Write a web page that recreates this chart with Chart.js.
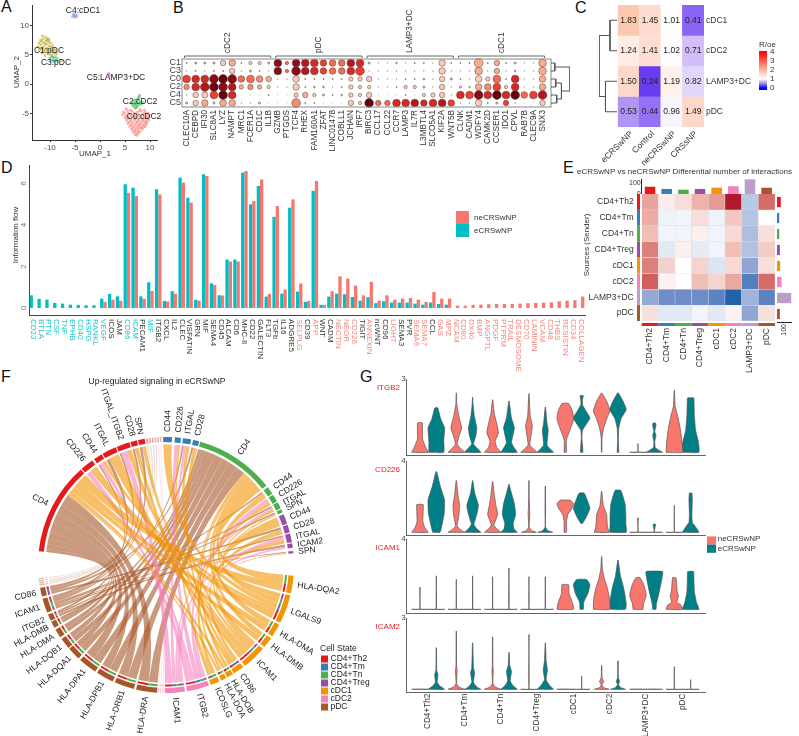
<!DOCTYPE html>
<html>
<head>
<meta charset="utf-8">
<script src="https://cdn.jsdelivr.net/npm/chart.js@4"></script>
<style>
html, body { margin: 0; padding: 0; background: #fff; width: 799px; height: 736px; overflow: hidden; }
body { position: relative; font-family: 'Liberation Sans', sans-serif; }
canvas { position: absolute; }
.tag { position: absolute; font-size: 16px; line-height: 16px; color: #111; }
</style>
</head>
<body>
<div class="tag" style="left:1px;top:-1px">A</div>
<div class="tag" style="left:173px;top:0">B</div>
<div class="tag" style="left:575px;top:0">C</div>
<div class="tag" style="left:1px;top:160px">D</div>
<div class="tag" style="left:563px;top:160px">E</div>
<div class="tag" style="left:1px;top:369px">F</div>
<div class="tag" style="left:360px;top:369px">G</div>
<script>
// ---- A: UMAP
const umapC0 = [[5.2,-4.2],[6.1,-4.4],[7.1,-4.1],[8.0,-4.3],[8.9,-4.4],[4.7,-4.7],[5.6,-4.9],[6.4,-4.6],[7.4,-4.8],[8.3,-4.6],[9.1,-4.8],[9.6,-4.9],[4.5,-5.2],[5.2,-5.4],[6.0,-5.1],[6.9,-5.3],[7.7,-5.2],[8.6,-5.3],[9.3,-5.2],[9.9,-5.3],[5.0,-5.7],[5.8,-5.8],[6.6,-5.6],[7.4,-5.8],[8.2,-5.7],[9.0,-5.8],[9.7,-5.7],[5.3,-6.2],[6.1,-6.3],[6.9,-6.1],[7.7,-6.3],[8.5,-6.2],[9.3,-6.3],[9.8,-6.1],[5.6,-6.7],[6.4,-6.8],[7.2,-6.6],[8.0,-6.8],[8.8,-6.7],[9.4,-6.6],[5.9,-7.2],[6.7,-7.3],[7.5,-7.1],[8.3,-7.3],[9.0,-7.2],[6.3,-7.7],[7.0,-7.8],[7.7,-7.6],[8.4,-7.7],[6.6,-8.2],[7.3,-8.3],[8.0,-8.1],[7.0,-8.6],[7.4,-8.7],[5.5,-4.5],[6.8,-4.9],[7.8,-4.6],[8.7,-5.0],[4.9,-5.0],[5.6,-5.5],[6.3,-5.4],[7.2,-5.5],[8.0,-5.4],[8.9,-5.5],[9.5,-5.6],[5.4,-5.9],[6.2,-6.0],[7.0,-5.9],[7.8,-6.0],[8.6,-6.0],[9.4,-5.9],[5.8,-6.5],[6.6,-6.5],[7.4,-6.4],[8.2,-6.5],[9.0,-6.4],[6.2,-7.0],[7.0,-7.0],[7.8,-6.9],[8.6,-7.0],[9.2,-6.9],[6.5,-7.5],[7.3,-7.5],[8.0,-7.4],[8.7,-7.4],[6.9,-8.0],[7.6,-8.0],[7.7,-8.4]];
const umapC1 = [[-12.4,6.4],[-12.2,7.0],[-12.1,5.8],[-11.9,7.5],[-11.8,6.7],[-11.7,6.0],[-11.6,5.3],[-11.5,8.2],[-11.4,7.7],[-11.3,7.1],[-11.2,6.4],[-11.1,5.6],[-11.0,4.9],[-10.9,8.0],[-10.8,7.4],[-10.7,6.8],[-10.6,6.1],[-10.5,5.4],[-10.4,7.8],[-10.3,7.2],[-10.2,6.5],[-10.1,5.8],[-10.0,5.1],[-9.9,7.0],[-9.8,6.3],[-9.7,5.6],[-9.6,4.9],[-9.5,6.6],[-9.3,6.0],[-9.2,5.3],[-9.0,5.8],[-8.8,5.1],[-8.6,5.4],[-12.0,6.2],[-11.4,6.0],[-11.0,6.9],[-10.6,7.6],[-10.9,5.9],[-11.7,7.3],[-10.2,7.5],[-9.4,4.6],[-8.4,4.2],[-7.6,4.0]];
const umapC2 = [[6.4,-3.3],[6.6,-3.7],[6.7,-2.9],[6.9,-3.4],[7.0,-4.0],[7.1,-3.1],[7.2,-3.6],[7.3,-2.7],[7.4,-3.9],[7.5,-3.2],[7.6,-2.5],[7.7,-3.5],[7.8,-2.2],[7.9,-1.9],[8.0,-3.0],[8.2,-3.4],[8.5,-3.1]];
const umapC3 = [[-10.0,4.5],[-9.8,4.0],[-9.6,4.7],[-9.4,4.2],[-9.2,3.8],[-9.1,4.6],[-8.9,4.1],[-8.7,4.5],[-8.5,3.9]];
const umapC4 = [[-5.5,11.5],[-5.4,11.9],[-5.2,11.6],[-5.1,12.0],[-5.0,11.4],[-4.9,11.8]];
const umapC4b = [[-4.7,11.5],[-4.6,11.7]];
const umapC5 = [[1.6,1.6],[1.8,1.9],[1.9,1.5],[1.7,1.7]];
const umapLabels = ['C4:cDC1', 'C1:pDC', 'C3:pDC', 'C5:LAMP3+DC', 'C2:cDC2', 'C0:cDC2'];
const umapLabelX = [-3.4, -10.2, -8.8, 3.2, 8.0, 8.8];
const umapLabelY = [12.6, 5.8, 3.75, 1.2, -2.9, -5.6];

// ---- B: marker dot plot
const geneGroups = ['cDC2', 'pDC', 'LAMP3+DC', 'cDC1'];
const dotGenes = ['CLEC10A','CEBPD','IFI30','SLC8A1','LYZ','NAMPT','MRC1','FCER1A','CD1C','IL1B','GZMB','PTGDS','TCF4','RHEX','FAM160A1','ZFAT','LINC01478','COBLL1','JCHAIN','IRF7','BIRC3','CCL17','CCL22','CCR7','LAMP3','IL7R','L3MBTL4','SLCO5A1','KIF2A','WNT5B','CLNK','CADM1','WDFY4','CAMK2D','CCSER1','IDO1','CPVL','RAB7B','CLEC9A','SNX3'];
const dotRows = ['C1', 'C3', 'C0', 'C2', 'C4', 'C5'];
const sizeC1 = [1,2,2,2,5,6,1,3,3,2, 7,3,7,7,7,6,6,6,7,7, 2,.5,.5,1.5,.5,1,1,.5,6,1, 1,1,8,1,5,1,2,.5,.5,7];
const levelC1 = [3,2,2,2,1,2,3,1,1,1, 8,4,8,7,6,5,4,4,7,6, 1,2,2,2,2,3,3,2,1,3, 3,3,2,3,2,3,1,2,2,2];
const sizeC3 = [.5,1,.5,1,1,5,.5,2,1,.5, 7,3,8,7,7,6,6,6,7,8, .5,.5,.5,.5,.5,.5,.5,.5,6,.5, .5,.5,7,.5,5,.5,1.5,.5,.5,7];
const levelC3 = [3,3,3,3,3,1,3,1,2,3, 8,4,8,7,6,5,4,4,6,5, 3,3,3,3,3,3,3,3,1,3, 3,3,2,3,2,3,2,3,3,2];
const sizeC0 = [7,7,7,8,8,8,6,7,6,5, .5,.5,6,1,1,1,1,1,4,4, 5,.5,.5,.5,1,1,1.5,.5,5,2, 1,.5,6,4,7,1,7,.5,.5,6];
const levelC0 = [5,6,6,8,9,8,4,4,3,2, 3,3,1,3,3,3,3,3,1,1, 1,3,3,3,3,3,3,3,1,2, 3,3,1,1,4,3,6,3,3,2];
const sizeC2 = [5,7,8,8,8,7,4,5,4,3, .5,.5,6,1,1.5,1.5,.5,1,4,3, 3,.5,.5,1,3,3,2,.5,5,.5, 2,1.5,6,6,7,3,7,.5,.5,6];
const levelC2 = [3,6,7,9,8,7,2,3,2,1, 3,3,1,3,3,3,3,3,1,1, 1,3,3,3,1,1,1,3,1,3, 1,1,2,3,5,1,6,3,3,2];
const sizeC4 = [.5,5,5.5,7,8,7,.2,.2,.2,1, .2,.2,4,5,3,2,1,1.5,4,3, 5,.2,.2,.2,1,.2,3,4,5,.5, 7,7,8,7,8,7,8,6,7,8];
const levelC4 = [3,1,1,5,9,6,3,3,3,3, 3,3,1,2,1,1,3,2,1,1, 1,3,3,3,3,3,1,1,1,3, 6,5,8,6,9,6,9,4,5,7];
const sizeC5 = [2,5,6,2,6,6,.5,.5,2,.2, .2,.2,8,1,1,.2,.2,.2,5,3, 8,5,5,7,7,7,6,7,7,6, .5,.5,6,1,2,5,.5,.2,.2,5];
const levelC5 = [1,1,2,1,2,2,3,3,1,3, 3,3,3,3,3,3,3,3,1,1, 9,4,4,6,6,7,6,6,7,5, 3,3,1,3,1,5,3,3,3,1];
const dotSizes = [sizeC1, sizeC3, sizeC0, sizeC2, sizeC4, sizeC5];
const dotLevels = [levelC1, levelC3, levelC0, levelC2, levelC4, levelC5];
const dotDendro = [[[0,.5],[.2,.5],[.2,1.5],[0,1.5]], [[0,2.5],[.25,2.5],[.25,3.5],[0,3.5]], [[0,4.5],[.3,4.5],[.3,5.5],[0,5.5]], [[.25,3],[.55,3],[.55,5],[.3,5]], [[.2,1],[1,1],[1,4],[.55,4]]];

// ---- C: R/oe heat map
const roeCols = ['eCRSwNP', 'Control', 'neCRSwNP', 'CRSsNP'];
const roeRows = ['cDC1', 'cDC2', 'LAMP3+DC', 'pDC'];
const roeCDC1 = [1.83, 1.45, 1.01, 0.41];
const roeCDC2 = [1.24, 1.41, 1.02, 0.71];
const roeLAMP3 = [1.50, 0.24, 1.19, 0.82];
const roePDC = [0.53, 0.44, 0.96, 1.49];
const roeTable = [roeCDC1, roeCDC2, roeLAMP3, roePDC];
const roeDendro = [[[0,.5],[.39,.5],[.39,1.5],[0,1.5]], [[0,2.5],[.64,2.5],[.64,3.5],[0,3.5]], [[.39,1],[1,1],[1,3],[.64,3]]];
const roeTicks = [4, 3, 2, 1, 0];

// ---- D: information flow
const flowLabels = ['CD23','BTLA','PTN','CSF','TNF','EPHB','CD40','HSPG','RANKL','VEGF','ICOS','JAM','CD86','ICAM','PECAM1','MIF','ITGB2','CXCL','IL2','CLEC','VISFATIN','GRN','MIF','SEMA4','CD45','ALCAM','CD6','MHC-II','CD22','GALECTIN','FLT3','TGFb','IL16','ADGRE5','SELPLG','CD39','APP','WNT','CADM','NECTIN','NEGR','CD226','TIGIT','ANNEXIN','ncWNT','CD96','LIGHT','SEMA3','PVR','SEMA6','SEMA7','CCL','GAS','MPZ','NCAM','CD80','OX40','BMP','ANGPTL','PDGF','PTPRM','TRAIL','DESMOSOME','CD70','LAMININ','VCAM','CD48','THBS','RESISTIN','CD34','COLLAGEN'];
const flowE = [.61,.44,.40,.24,.21,.16,.15,.13,.13,.45,.68,.56,5.97,5.80,.56,1.24,5.73,.34,.81,6.29,5.32,.39,6.45,1.19,.61,2.34,2.34,6.53,5.0,5.89,.55,4.4,.69,4.84,.79,.29,5.65,.15,.55,.69,.66,.53,.35,.52,.23,.32,.26,.26,.26,.21,.16,.26,.19,.16,0,0,0,0,0,0,0,0,0,0,0,0,0,0,0,0,0];
const flowN = [0,0,0,0,0,0,0,0,0,.29,.40,.35,5.56,5.40,.44,.82,5.48,.31,.69,6.05,5.08,.35,6.37,1.11,.60,2.24,2.24,6.61,5.16,6.2,.68,4.92,.89,5.24,1.18,.34,6.13,.15,.81,1.53,1.42,1.08,.61,1.26,.35,.61,.40,.45,.48,.40,.29,.77,.45,.45,.11,.11,.15,.16,.18,.19,.19,.19,.21,.23,.24,.26,.27,.32,.35,.37,.55];
const flowSide = 'eeeeeeeeee--ee-e------------------n-n--nnn-n--n--nn-nnnnnnnnnnnnnnnnnnn'.split('');
const flowTicks = [0, 2, 4, 6];

// ---- E: differential interactions
const cellStates = ['CD4+Th2', 'CD4+Tm', 'CD4+Tn', 'CD4+Treg', 'cDC1', 'cDC2', 'LAMP3+DC', 'pDC'];
const diffTh2 = [.37, .07, .13, .3, .42, 1.0, -.25, .65];
const diffTm = [.33, -.06, -.05, .13, -.06, .22, -.27, 0];
const diffTn = [.25, -.05, -.05, .06, -.05, .15, -.3, .12];
const diffTreg = [.55, -.1, .06, -.09, -.05, .25, -.28, .2];
const diffCDC1 = [.55, .18, 0, .17, -.12, .15, -.42, .12];
const diffCDC2 = [.7, .05, 0, .25, .17, .35, -.7, .65];
const diffLAMP3 = [-.4, -.55, -.55, -.55, -.65, -1.0, -.35, -.65];
const diffPDC = [.12, -.1, -.1, -.05, -.1, .05, -.42, .12];
const diffTable = [diffTh2, diffTm, diffTn, diffTreg, diffCDC1, diffCDC2, diffLAMP3, diffPDC];
const diffIncoming = [70, 48, 42, 48, 61, 73, 136, 61];
const diffOutgoing = [57, 36, 36, 44, 49, 67, 200, 44];

// ---- F: chord diagram
const legendStates = ['CD4+Th2', 'CD4+Tm', 'CD4+Tn', 'CD4+Treg', 'cDC1', 'cDC2', 'pDC'];
const chordIds = ['Tm.CD44','','Tm.CD226','','Tm.ITGAL','','Tm.CD28','',
  'Tn.CD4','','Tn.CD44','','Tn.CD226','','Tn.ITGAL','','Tn.SPN','',
  'Treg.CD44','','Treg.CD28','','Treg.ITGAL','','Treg.ICAM2','','Treg.SPN','',
  'cDC1.HLA-DQA2','','cDC1.LGALS9','','cDC1.HLA-DMA','','cDC1.HLA-DMB','','cDC1.ICAM1','','cDC1.CD86','','cDC1.HLA-DOB','','cDC1.HLA-DOA','','cDC1.ICOSLG','',
  'cDC2.ITGB2','','cDC2.ICAM1','','cDC2.~a','','cDC2.~b','','cDC2.~c','',
  'pDC.HLA-DRA','','pDC.HLA-DRB1','','pDC.HLA-DPB1','','pDC.HLA-DPA1','','pDC.HLA-DQA1','','pDC.HLA-DQB1','','pDC.HLA-DMA','','pDC.HLA-DMB','','pDC.ITGB2','','pDC.ICAM1','','pDC.CD86','','pDC.~a','','pDC.~b','','pDC.~c','','pDC.~d','',
  'Th2.CD4','','Th2.CD226','','Th2.CD44','','Th2.ITGAL','','Th2.ITGAL_ITGB2','','Th2.CD28','','Th2.SPN','','Th2.~a','','Th2.~b','','Th2.~c','','Th2.~d','','Th2.~e','','Th2.~f',''];
const chordWeights = [4,1.3,2.7,.9,3.7,.9,2.8,.5,
  36,1,3.5,.5,3.5,.5,3,.5,1.5,1,
  4.5,.5,3.5,.5,4,.5,2,1.5,1,10,
  8,1,13,1,6,1,5,1,11,1,5,.5,3,.5,2.5,1,4,1,
  10,1,9,.5,.7,.4,.6,.4,.5,.4,
  9.5,1,9,1,8,1,8.5,1,6,.5,5,1,4,1,3,.5,3,1,6.5,1,4,1,.7,.3,.7,.3,.6,.3,.5,12,
  42,.5,6,1,4,.5,6.5,.5,6,.5,3,.5,3,.5,.9,.5,.8,.5,.8,.5,.7,.5,.7,.5,.6,.8];
const chordLinks = [
  ['pDC.HLA-DRA','Th2.CD4',5], ['pDC.HLA-DRA','Tn.CD4',4.5], ['pDC.HLA-DRB1','Th2.CD4',4.5], ['pDC.HLA-DRB1','Tn.CD4',4.5],
  ['pDC.HLA-DPB1','Th2.CD4',4], ['pDC.HLA-DPB1','Tn.CD4',4], ['pDC.HLA-DPA1','Th2.CD4',4.5], ['pDC.HLA-DPA1','Tn.CD4',4],
  ['pDC.HLA-DQA1','Th2.CD4',3], ['pDC.HLA-DQA1','Tn.CD4',3], ['pDC.HLA-DQB1','Th2.CD4',2.5], ['pDC.HLA-DQB1','Tn.CD4',2.5],
  ['pDC.HLA-DMA','Th2.CD4',2], ['pDC.HLA-DMA','Tn.CD4',2], ['pDC.HLA-DMB','Th2.CD4',1.5], ['pDC.HLA-DMB','Tn.CD4',1.5],
  ['pDC.ITGB2','Treg.ICAM2',1], ['pDC.ITGB2','Th2.CD44',1], ['pDC.ITGB2','Tn.CD44',1],
  ['pDC.ICAM1','Th2.ITGAL',1], ['pDC.ICAM1','Th2.ITGAL_ITGB2',1], ['pDC.ICAM1','Th2.SPN',1], ['pDC.ICAM1','Tm.ITGAL',1], ['pDC.ICAM1','Tn.ITGAL',1], ['pDC.ICAM1','Tn.SPN',1], ['pDC.ICAM1','Treg.ITGAL',1], ['pDC.ICAM1','Treg.SPN',1],
  ['pDC.CD86','Th2.CD28',1], ['pDC.CD86','Tm.CD28',1], ['pDC.CD86','Treg.CD28',1],
  ['pDC.~a','Th2.~a',1], ['pDC.~b','Th2.~b',1], ['pDC.~c','Th2.~c',1], ['pDC.~d','Th2.~d',1],
  ['cDC1.HLA-DQA2','Th2.CD4',4], ['cDC1.HLA-DQA2','Tn.CD4',4], ['cDC1.HLA-DMA','Th2.CD4',3], ['cDC1.HLA-DMA','Tn.CD4',3], ['cDC1.HLA-DMB','Th2.CD4',2.5], ['cDC1.HLA-DMB','Tn.CD4',2.5],
  ['cDC1.HLA-DOB','Th2.CD4',1.5], ['cDC1.HLA-DOB','Tn.CD4',1.5], ['cDC1.HLA-DOA','Th2.CD4',1], ['cDC1.HLA-DOA','Tn.CD4',1],
  ['cDC1.LGALS9','Th2.CD226',4], ['cDC1.LGALS9','Th2.CD44',2], ['cDC1.LGALS9','Tm.CD44',3], ['cDC1.LGALS9','Tn.CD44',3], ['cDC1.LGALS9','Treg.CD44',3],
  ['cDC1.ICAM1','Th2.ITGAL',3], ['cDC1.ICAM1','Th2.ITGAL_ITGB2',2.5], ['cDC1.ICAM1','Th2.SPN',1.5], ['cDC1.ICAM1','Tm.ITGAL',2], ['cDC1.ICAM1','Tn.ITGAL',1.5], ['cDC1.ICAM1','Tn.SPN',1], ['cDC1.ICAM1','Treg.ITGAL',2], ['cDC1.ICAM1','Treg.SPN',.7],
  ['cDC1.CD86','Th2.CD28',2], ['cDC1.CD86','Tm.CD28',2], ['cDC1.CD86','Treg.CD28',2], ['cDC1.ICOSLG','Tm.CD226',2], ['cDC1.ICOSLG','Tn.CD226',2],
  ['cDC2.ITGB2','Th2.CD226',2.5], ['cDC2.ITGB2','Th2.CD44',2], ['cDC2.ITGB2','Tm.CD226',2.5], ['cDC2.ITGB2','Tn.CD226',2], ['cDC2.ITGB2','Treg.ICAM2',1],
  ['cDC2.ICAM1','Th2.ITGAL_ITGB2',3], ['cDC2.ICAM1','Tm.ITGAL',1.5], ['cDC2.ICAM1','Tn.ITGAL',1], ['cDC2.ICAM1','Treg.ITGAL',1.5], ['cDC2.ICAM1','Treg.SPN',.5],
  ['cDC2.~a','Th2.~e',1], ['cDC2.~b','Th2.~f',1], ['cDC2.~c','Th2.~f',.5]
];

// ---- G: violins, each profile is y, relative half width, y, ...
const itgb2Ne = [[0,1,.2,.7,.55,.3,.75,.3,1.2,.3,1.22,.1],[0,1,.2,.4,.34,.1,.68,.35,1,.65,1.5,.3,2,.05,2.43,.02],[0,1,.2,.5,.45,.3,.8,.7,1.1,.55,1.6,.2,2.15,.02],[0,1,.15,.5,.3,.1,.9,.35,1.1,.4,1.5,.15,2.4,.02],[0,.15,.5,.12,.85,.5,1.35,1,1.7,.85,2,.4],[0,.03,.6,.05,1,.25,1.4,.65,1.7,1,2.1,.6,2.4,.1,2.43,.02],[0,1,.02,.03,.35,.02],[0,1,.5,.9,1,.7,1.5,.4,1.9,.1,2.54,.02]];
const itgb2E = [[0,.9,.5,.9,1,1,1.35,.55,1.8,.2,1.83,.1],[0,1,.2,.45,.34,.1,.7,.4,1,.5,1.5,.2,2,.05,2.25,.02],[0,1,.2,.6,.4,.3,1,.65,1.4,.3,2.1,.02],[0,1,.15,.55,.3,.2,.9,.35,1.2,.2,1.85,.02],[0,.15,.3,.1,.6,.03,.9,.1,1.4,1,1.7,.5,1.95,.1,2.15,.1,2.32,.2],[0,.1,.5,.04,1,.1,1.4,.4,1.75,1,2.1,.6,2.43,.05],[0,1,.1,.5,.2,.1,.45,.05,.7,.2,.85,.05,1.1,.2,1.2,.15],[0,1,.4,.95,.9,.6,1.5,.45,2.2,.4,2.23,.35]];
const cd226Ne = [[0,1,.25,.6,.6,.35,1.55,.4,1.57,.2],[0,1,.15,.5,.35,.1,.9,.3,1.5,.4,2.1,.2,2.9,.02],[0,1,.2,.5,.4,.15,1,.6,1.5,.4,2.1,.2,2.85,.02],[0,.9,.1,.3,.3,.03,1,.1,1.3,.07,2,.03,2.9,.02],[0,.15,.6,.15,1,.3,1.3,.75,1.6,1,1.8,.6],[0,.9,.3,.7,1,.6,1.5,.2,2.3,.02],[0,1,.02,.02,.8,.05],[0,1,.02,.02,1.5,.02]];
const cd226E = [[0,.45,1.05,.95,1.8,1,2.55,.5,3.4,.05],[0,1,.2,.5,.45,.15,1,.5,1.5,.7,2.2,.25,2.9,.02],[0,1,.2,.6,.5,.5,1,.8,1.6,.65,2.2,.3,2.7,.02],[0,.9,.1,.3,.3,.02,1,.03,2.6,.02],[.5,.1,.8,.5,1.35,1,1.9,.6,2.2,.3],[0,1,.5,.95,1,.95,1.6,.85,2.35,.35],[0,1,.02,.02,.45,.15],[0,1,.3,.6,.55,.2,1,.15,1.8,.2,2.2,.15]];
const icam1Ne = [[0,1,.02,.03,1.25,.03],[0,1,.02,.02,1.7,.02],[0,1,.02,.02,1.85,.02],[0,1,.02,.02,1.85,.02],[0,1,.4,.85,.9,.45,1.4,.4],[0,1,.6,.95,1.2,.7,1.8,.3,2.3,.1,3,.02],[0,.6,.3,.65,.8,1,1.4,.7,1.8,.25],[0,1,.25,.8,.4,.3,.75,.5,1,.35,1.8,.2]];
const icam1E = [[0,1,.02,.02,1.9,.02],[0,1,.02,.02,1.9,.02],[0,1,.02,.02,2.35,.02],[0,1,.02,.02,1.85,.02],[0,.2,.4,.25,.9,.75,1.4,1,1.7,.6],[0,.9,.3,1,1.2,.7,1.9,.3,2.8,.03],[0,.2,.3,.25,1,.6,1.7,.9,2.15,1],[0,1,.4,.7,1,.45,1.6,.4,2.15,.35]];
const icam2Ne = [[0,1,.01,0],[0,1,.1,.3,.25,.03,.8,.1,1,.03,2.45,.02],[0,1,.1,.3,.25,.03,.8,.08,1,.03,2.2,.02],[0,1,.01,.02,2.3,.02],[0,1,.01,0],[0,.9,.08,.2,.2,.05,.32,.25,.5,.05,1,.02],[0,1,.01,0],[0,1,.01,.02,.95,.02]];
const icam2E = [[0,1,.15,.4,.3,.1,.6,.2,.8,.05,1.75,.02],[0,1,.1,.5,.3,.1,.7,.25,.9,.1,1.95,.02],[0,1,.15,.5,.35,.15,.75,.3,1,.1,1.55,.02],[0,1,.15,.55,.4,.1,.8,.25,1.2,.1,1.95,.02],[0,1,.01,.02,.55,.02],[0,.9,.08,.3,.2,.05,.32,.2,.5,.05,1.2,.02],[0,1,.01,0],[0,1,.01,.02,.4,.02]];
const violinGenes = ['ITGB2', 'CD226', 'ICAM1', 'ICAM2'];

// ---- styles
const SANS = "'Liberation Sans', sans-serif";
const RED = '#F8766D', TEAL = '#00BFC4', DEEP_TEAL = '#007F86';
const reds = ['#FEE0D2','#FDCAB5','#FCAB8F','#FC8A6A','#F9694C','#EF3C2D','#D92723','#B91419','#8E0912','#67000D'];
const cellColors = {'CD4+Th2':'#E41A1C','CD4+Tm':'#377EB8','CD4+Tn':'#4DAF4A','CD4+Treg':'#984EA3','cDC1':'#F29403','cDC2':'#F781BF','LAMP3+DC':'#BC9DCC','pDC':'#A65628'};
const shortCell = {Th2:'CD4+Th2',Tm:'CD4+Tm',Tn:'CD4+Tn',Treg:'CD4+Treg',cDC1:'cDC1',cDC2:'cDC2',pDC:'pDC'};

Chart.defaults.font.family = SANS;
Chart.defaults.font.size = 8;
Chart.defaults.color = '#333';
Chart.defaults.animation = false;
Chart.defaults.plugins.legend.display = false;
Chart.defaults.plugins.tooltip.enabled = false;

function rampColor(stops, colors, v) {
  if (v <= stops[0]) return 'rgb(' + colors[0].join(',') + ')';
  for (let i = 1; i < stops.length; i++) {
    if (v <= stops[i]) {
      const t = (v - stops[i - 1]) / (stops[i] - stops[i - 1]);
      const c = colors[i].map((k, n) => Math.round(colors[i - 1][n] + (k - colors[i - 1][n]) * t));
      return 'rgb(' + c.join(',') + ')';
    }
  }
  return 'rgb(' + colors[colors.length - 1].join(',') + ')';
}
const roeColor = v => rampColor([0, .24, .41, .53, .71, .82, .96, 1, 1.19, 1.5, 1.83, 4],
  [[0,0,255],[106,60,240],[140,100,245],[175,150,245],[210,190,250],[225,215,250],[248,246,253],[255,255,255],[255,240,235],[253,215,200],[252,200,175],[255,0,0]], v);
const diffColor = v => rampColor([-1, -.55, -.25, 0, .3, .65, 1],
  [[31,99,168],[110,140,200],[185,200,228],[255,255,255],[238,178,170],[214,108,104],[178,24,43]], v);

// small scale presets
function quiet(extra) {
  return Object.assign({ grid: {display: false, drawTicks: false}, border: {display: false}, ticks: {display: false} }, extra);
}
function axisLine(color) {
  return { display: true, color: color || '#333', width: 1 };
}
function fixedTicks(values) {
  return s => { s.ticks = values.map(v => ({value: v})); };
}

// canvas at box, chart area pinned to area; draw() works in page coordinates,
// at.x / at.y turn data values into page pixels
function panel(box, area, config, draw) {
  const c = document.createElement('canvas');
  c.width = box.w; c.height = box.h;
  c.style.left = box.x + 'px'; c.style.top = box.y + 'px';
  document.body.appendChild(c);
  const o = config.options = config.options || {};
  o.responsive = false;
  const onRight = o.scales && o.scales.y && o.scales.y.position === 'right';
  o.layout = { padding: {
    top: area.t - box.y,
    left: onRight || !o.scales ? area.l - box.x : 0,
    right: onRight ? 0 : box.x + box.w - area.r,
    bottom: o.scales ? 0 : box.y + box.h - area.b
  } };
  const pin = (s, key, val) => {
    s.afterFit = a => { a[key] = val; a.paddingLeft = a.paddingRight = a.paddingTop = a.paddingBottom = 0; };
  };
  if (o.scales) {
    pin(o.scales.x, 'height', box.y + box.h - area.b);
    pin(o.scales.y, 'width', onRight ? box.x + box.w - area.r : area.l - box.x);
  }
  config.plugins = [{ id: 'pageDraw', afterDraw(ch) {
    if (!draw) return;
    const ctx = ch.ctx;
    ctx.save();
    ctx.translate(-box.x, -box.y);
    draw(ctx, ch, {
      ox: box.x, oy: box.y,
      x: v => ch.scales.x.getPixelForValue(v) + box.x,
      y: v => ch.scales.y.getPixelForValue(v) + box.y
    });
    ctx.restore();
  } }];
  return new Chart(c, config);
}
function txt(ctx, s, x, y, opt) {
  const o = Object.assign({size: 8, color: '#333', align: 'left', base: 'middle', rot: 0}, opt);
  ctx.save();
  ctx.translate(x, y);
  ctx.rotate(o.rot * Math.PI / 180);
  ctx.font = o.size + 'px ' + SANS;
  ctx.fillStyle = o.color;
  ctx.textAlign = o.align;
  ctx.textBaseline = o.base;
  ctx.fillText(s, 0, 0);
  ctx.restore();
}

// dendrogram: polylines in height / leaf units
function dendro(area, lines, rows, flip) {
  panel({x: area.l, y: area.t, w: area.r - area.l, h: area.b - area.t}, area, {
    type: 'scatter',
    data: { datasets: lines.map(l => ({
      data: l.map(p => ({x: p[0], y: p[1]})), showLine: true, pointRadius: 0, borderColor: '#555', borderWidth: 1, tension: 0
    })) },
    options: { scales: {
      x: quiet({type: 'linear', min: 0, max: 1, reverse: flip}),
      y: quiet({type: 'linear', min: 0, max: rows, reverse: true})
    } }
  });
}

// A
const umapSets = [[umapC0, RED], [umapC1, '#B79F00'], [umapC2, '#00BA38'], [umapC3, TEAL], [umapC4, '#619CFF'], [umapC4b, RED], [umapC5, '#F564E3']];
panel({x: 0, y: 0, w: 165, h: 160}, {l: 32, t: 5, r: 157, b: 140}, {
  type: 'scatter',
  data: { datasets: umapSets.map(s => ({
    data: s[0].map(p => ({x: p[0], y: p[1]})), pointRadius: 1.1, borderWidth: .5,
    backgroundColor: s[1] + '66', borderColor: s[1] + 'CC'
  })) },
  options: { scales: {
    x: { type: 'linear', min: -13.6, max: 11.4, afterBuildTicks: fixedTicks([-10, -5, 0, 5, 10]),
      grid: {drawOnChartArea: false, tickLength: 2, color: '#333'}, border: axisLine(),
      ticks: {autoSkip: false, padding: 1, color: '#4d4d4d', font: {size: 8}, maxRotation: 0, callback: v => v} },
    y: { type: 'linear', min: -9.5, max: 13.5, afterBuildTicks: fixedTicks([-5, 0, 5, 10]),
      grid: {drawOnChartArea: false, tickLength: 2, color: '#333'}, border: axisLine(),
      ticks: {autoSkip: false, padding: 1, color: '#4d4d4d', font: {size: 8}, callback: v => v} }
  } }
}, (ctx, ch, at) => {
  umapLabels.forEach((s, i) => txt(ctx, s, at.x(umapLabelX[i]), at.y(umapLabelY[i]), {size: 8.5, align: 'center', color: '#222'}));
  txt(ctx, 'UMAP_2', 17, 72, {rot: -90, align: 'center', size: 8});
  txt(ctx, 'UMAP_1', 95, 154, {align: 'center', size: 8});
});

// B
panel({x: 160, y: 5, w: 392, h: 155}, {l: 182, t: 59, r: 551, b: 107}, {
  type: 'scatter',
  data: { datasets: dotRows.map((r, i) => ({
    data: dotGenes.map(g => ({x: g, y: r})),
    pointRadius: dotSizes[i].map(v => v * .55),
    backgroundColor: dotLevels[i].map(v => reds[v]),
    borderColor: '#444', borderWidth: .5
  })) },
  options: { scales: {
    x: quiet({type: 'category', labels: dotGenes, offset: true,
      ticks: {display: true, autoSkip: false, minRotation: 90, maxRotation: 90, padding: 3, font: {size: 8.2}}}),
    y: quiet({type: 'category', labels: dotRows, offset: true,
      ticks: {display: true, autoSkip: false, padding: 1, font: {size: 9}, color: '#444'}})
  } }
}, (ctx, ch, at) => {
  ctx.strokeStyle = '#888'; ctx.lineWidth = 1;
  ctx.strokeRect(182, 59, 369, 48);
  ctx.strokeStyle = '#666';
  geneGroups.forEach((g, i) => {
    const a = at.x(i * 10) - 2, b = at.x(i * 10 + 9) + 2;
    ctx.beginPath(); ctx.moveTo(a, 58); ctx.lineTo(a, 56); ctx.lineTo(b, 56); ctx.lineTo(b, 58); ctx.stroke();
    txt(ctx, g, (a + b) / 2, 53, {rot: -90, align: 'left', size: 8.2});
  });
});
dendro({l: 551, t: 59, r: 570, b: 107}, dotDendro, 6, false);

// C
panel({x: 590, y: 0, w: 209, h: 166}, {l: 617.7, t: 5, r: 704, b: 127}, {
  type: 'bar',
  data: { labels: roeCols, datasets: roeTable.map((row, i) => ({
    data: row.map(() => [i, i + 1]), backgroundColor: row.map(roeColor),
    grouped: false, barPercentage: 1, categoryPercentage: 1
  })) },
  options: { scales: {
    x: quiet({ticks: {display: true, autoSkip: false, minRotation: 45, maxRotation: 45, padding: 2, labelOffset: 3, font: {size: 8.5}}}),
    y: quiet({type: 'linear', position: 'right', min: 0, max: 4, reverse: true,
      afterBuildTicks: fixedTicks(roeRows.map((r, i) => i + .5)),
      ticks: {display: true, autoSkip: false, padding: 2, font: {size: 8.5}, callback: v => roeRows[v - .5]}})
  } }
}, (ctx, ch, at) => {
  roeTable.forEach((row, i) => row.forEach((v, j) => {
    txt(ctx, v.toFixed(2), at.x(j), at.y(i + .5), {align: 'center', size: 8.5, color: '#222'});
  }));
  const g = ctx.createLinearGradient(0, 88, 0, 52);
  [0, .12, .25, .5, .75, 1].forEach(t => g.addColorStop(t, roeColor(t * 4)));
  ctx.fillStyle = g;
  ctx.fillRect(759, 51, 8, 39);
  txt(ctx, 'R/oe', 759, 45, {size: 8});
  roeTicks.forEach(v => txt(ctx, String(v), 770, 88 - v * 9, {size: 8}));
});
dendro({l: 599, t: 5, r: 617.7, b: 127}, roeDendro, 4, true);

// D
panel({x: 0, y: 160, w: 590, h: 216}, {l: 29, t: 165, r: 585, b: 315}, {
  type: 'bar',
  data: { labels: flowLabels, datasets: [
    {label: 'eCRSwNP', data: flowE, backgroundColor: TEAL, categoryPercentage: .84, barPercentage: 1},
    {label: 'neCRSwNP', data: flowN, backgroundColor: RED, categoryPercentage: .84, barPercentage: 1}
  ] },
  options: { scales: {
    x: quiet({border: axisLine('#444')}),
    y: quiet({type: 'linear', min: -.34, max: 6.9, border: axisLine('#444'), afterBuildTicks: fixedTicks(flowTicks)})
  } }
}, (ctx, ch, at) => {
  const sideColor = {e: '#19C8CE', n: '#F8857D', '-': '#333'};
  flowLabels.forEach((s, i) => txt(ctx, s, at.x(i), 319, {rot: 90, size: 8, color: sideColor[flowSide[i]]}));
  flowTicks.forEach(v => txt(ctx, String(v), 24, at.y(v), {rot: -90, align: 'center', color: '#777', size: 8}));
  txt(ctx, 'Information flow', 16, 235, {rot: -90, align: 'center', size: 8});
  ctx.fillStyle = RED; ctx.fillRect(456, 211, 13, 13);
  ctx.fillStyle = TEAL; ctx.fillRect(456, 224, 13, 13);
  txt(ctx, 'neCRSwNP', 474, 217.5, {size: 8});
  txt(ctx, 'eCRSwNP', 474, 231, {size: 8});
});

// E
panel({x: 577, y: 165, w: 222, h: 212}, {l: 641.7, t: 194, r: 775, b: 321}, {
  type: 'bar',
  data: { labels: cellStates, datasets: diffTable.map((row, i) => ({
    data: row.map(() => [i, i + 1]), backgroundColor: row.map(diffColor), borderColor: '#e4dde2', borderWidth: .5,
    grouped: false, barPercentage: 1, categoryPercentage: 1
  })) },
  options: { scales: {
    x: quiet({ticks: {display: true, autoSkip: false, minRotation: 90, maxRotation: 90, padding: 7, font: {size: 8.5}}}),
    y: quiet({type: 'linear', min: 0, max: 8, reverse: true,
      afterBuildTicks: fixedTicks(cellStates.map((r, i) => i + .5)),
      ticks: {display: true, autoSkip: false, padding: 8, font: {size: 8.5}, callback: v => cellStates[v - .5]}})
  } }
}, (ctx, ch, at) => {
  const bw = (775 - 641.7) / 8, bh = (321 - 194) / 8;
  cellStates.forEach((c, i) => {
    ctx.fillStyle = cellColors[c];
    ctx.fillRect(637, at.y(i + .5) - bh / 2, 3, bh);
    ctx.fillRect(at.x(i) - bw / 2, 323, bw, 3);
  });
  txt(ctx, 'eCRSwNP vs neCRSwNP Differential number of interactions', 577, 172, {size: 8});
  txt(ctx, 'Sources (Sender)', 587, 245, {rot: -90, align: 'center', size: 8});
});
panel({x: 618, y: 176, w: 158, h: 18.3}, {l: 641.7, t: 179, r: 775, b: 194.3}, {
  type: 'bar',
  data: { labels: cellStates, datasets: [{ data: diffIncoming, backgroundColor: cellStates.map(c => cellColors[c]), borderColor: '#d8d0d8', borderWidth: .4, barPercentage: 1, categoryPercentage: .68 }] },
  options: { scales: {
    x: quiet(),
    y: quiet({type: 'linear', min: 0, max: 136, border: axisLine('#222'), afterBuildTicks: fixedTicks([0, 100]),
      ticks: {display: true, autoSkip: false, padding: 1, font: {size: 7}, callback: v => v}})
  } }
});
panel({x: 776.7, y: 190, w: 22.3, h: 152}, {l: 776.7, t: 194, r: 791.7, b: 322}, {
  type: 'bar',
  data: { labels: cellStates, datasets: [{ data: diffOutgoing, backgroundColor: cellStates.map(c => cellColors[c]), borderColor: '#d8d0d8', borderWidth: .4, barPercentage: 1, categoryPercentage: .68 }] },
  options: { indexAxis: 'y', scales: {
    x: quiet({type: 'linear', min: 0, max: 200, border: axisLine('#222'), afterBuildTicks: fixedTicks([100]),
      ticks: {display: true, autoSkip: false, minRotation: 90, maxRotation: 90, padding: 2, font: {size: 7}, callback: v => v}}),
    y: quiet({type: 'category'})
  } }
});

// F
const cellOf = id => shortCell[id.split('.')[0]];
const chordColor = id => {
  if (!id) return 'rgba(0,0,0,0)';
  return cellColors[cellOf(id)] + (id.includes('~') ? '66' : '');
};
const ribbonColor = {pDC: 'rgba(166,86,40,.6)', cDC1: 'rgba(242,148,3,.6)', cDC2: 'rgba(247,129,191,.6)'};
function layoutEnds(arcs) {
  // share every segment between its links so that ribbons cross less
  const mid = id => (arcs[id].startAngle + arcs[id].endAngle) / 2;
  const ends = {};
  chordIds.filter(Boolean).forEach(id => {
    const own = chordLinks.filter(l => l[0] === id || l[1] === id);
    const total = own.reduce((a, l) => a + l[2], 0);
    const off = l => {
      const other = l[0] === id ? l[1] : l[0];
      const d = (mid(other) - mid(id)) % (2 * Math.PI);
      return d < 0 ? d + 2 * Math.PI : d;
    };
    let at = arcs[id].startAngle;
    const span = arcs[id].endAngle - arcs[id].startAngle;
    own.slice().sort((p, q) => off(q) - off(p)).forEach(l => {
      const w = span * l[2] / total;
      ends[id + '|' + chordLinks.indexOf(l)] = [at, at + w];
      at += w;
    });
  });
  return ends;
}
panel({x: 0, y: 375, w: 380, h: 380}, {l: 0, t: 375, r: 332, b: 755}, {
  type: 'doughnut',
  data: { labels: chordIds, datasets: [{ data: chordWeights, backgroundColor: chordIds.map(chordColor), borderWidth: 0 }] },
  options: { rotation: -1.3, circumference: 360, cutout: '96%', radius: 128 }
}, (ctx, ch, at) => {
  const items = ch.getDatasetMeta(0).data, arcs = {};
  chordIds.forEach((id, i) => { if (id) arcs[id] = items[i]; });
  const cx = items[0].x + at.ox, cy = items[0].y + at.oy, R = items[0].outerRadius;
  const ends = layoutEnds(arcs);
  const pt = (r, a) => [cx + r * Math.cos(a), cy + r * Math.sin(a)];
  ['pDC', 'cDC2', 'cDC1'].forEach(who => chordLinks.forEach((l, n) => {
    if (cellOf(l[0]) !== who) return;
    const a = ends[l[0] + '|' + n], b = ends[l[1] + '|' + n], r1 = 118, r2 = 120.5;
    ctx.globalAlpha = l[0].includes('~') ? .3 : 1;
    ctx.beginPath();
    ctx.arc(cx, cy, r1, a[0], a[1]);
    ctx.quadraticCurveTo(cx, cy, ...pt(r2, b[0]));
    ctx.arc(cx, cy, r2, b[0], b[1]);
    ctx.quadraticCurveTo(cx, cy, ...pt(r1, a[0]));
    ctx.closePath();
    ctx.fillStyle = ribbonColor[who];
    ctx.fill();
    // thin strip on the sender side shows the receiving cell state
    ctx.beginPath();
    ctx.arc(cx, cy, 120.5, a[0], a[1]);
    ctx.strokeStyle = cellColors[cellOf(l[1])];
    ctx.lineWidth = 2;
    ctx.stroke();
    ctx.globalAlpha = 1;
  }));
  chordIds.forEach(id => {
    if (!id || id.includes('~')) return;
    const a = (arcs[id].startAngle + arcs[id].endAngle) / 2, name = id.split('.')[1];
    const deg = a * 180 / Math.PI, right = Math.cos(a) >= 0;
    const p = pt(R + 5, a);
    txt(ctx, name, p[0], p[1], {size: 8.5, color: '#222', align: right ? 'left' : 'right', rot: right ? deg : deg + 180});
  });
  txt(ctx, 'Up-regulated signaling in eCRSwNP', 157, 382, {size: 8.5, align: 'center', color: '#222'});
  txt(ctx, 'Cell State', 320, 649, {size: 8.5, color: '#222'});
  legendStates.forEach((s, i) => {
    ctx.fillStyle = cellColors[s];
    ctx.fillRect(321, 655.5 + i * 8, 7, 7);
    txt(ctx, s, 330.5, 659 + i * 8, {size: 8.5, color: '#222'});
  });
});

// G
function violin(group, side, profile) {
  const c = group + .5 + side * .225, w = .228, left = [], right = [];
  for (let i = 0; i < profile.length; i += 2) {
    left.push({x: c - profile[i + 1] * w, y: profile[i]});
    right.unshift({x: c + profile[i + 1] * w, y: profile[i]});
  }
  const pts = left.concat(right);
  pts.push(pts[0]);
  return pts;
}
function violinRow(i, ne, e, top, base, bottom, max, last) {
  const unit = (base - top) / max;
  const sets = [];
  ne.forEach((p, g) => sets.push({ data: violin(g, -1, p), backgroundColor: RED }));
  e.forEach((p, g) => sets.push({ data: violin(g, 1, p), backgroundColor: DEEP_TEAL }));
  sets.forEach(s => Object.assign(s, { showLine: true, fill: 'shape', pointRadius: 0, borderColor: '#555', borderWidth: .7, tension: .12 }));
  const xOpts = { type: 'linear', min: -.09, max: 8.12, border: axisLine('#666') };
  if (last) {
    Object.assign(xOpts, { afterBuildTicks: fixedTicks(cellStates.map((c, n) => n + .5)),
      ticks: {display: true, autoSkip: false, minRotation: 90, maxRotation: 90, padding: 1, font: {size: 8.2}, callback: v => cellStates[v - .5]} });
  }
  panel({x: 372, y: top - 9, w: 428, h: last ? 736 - top + 9 : bottom - top + 27}, {l: 406.7, t: top, r: 705, b: bottom}, {
    type: 'scatter',
    data: { datasets: sets },
    options: { scales: {
      x: quiet(xOpts),
      y: quiet({type: 'linear', min: -(bottom - base) / unit, max: max, border: axisLine('#666'), afterBuildTicks: fixedTicks([max]),
        ticks: {display: true, autoSkip: false, padding: 1, font: {size: 8}, color: '#444', callback: v => v}})
    } }
  }, ctx => {
    txt(ctx, violinGenes[i], 400, top + 9, {align: 'right', size: 8, color: '#E8202A'});
    if (i === 2) {
      ctx.fillStyle = RED; ctx.fillRect(707, 536.7, 9, 8.2);
      ctx.fillStyle = DEEP_TEAL; ctx.fillRect(707, 544.9, 9, 8.2);
      txt(ctx, 'neCRSwNP', 717.7, 539.5, {size: 8});
      txt(ctx, 'eCRSwNP', 717.7, 549.5, {size: 8});
    }
  });
}
violinRow(0, itgb2Ne, itgb2E, 379.3, 453.3, 456, 3, false);
violinRow(1, cd226Ne, cd226E, 460.7, 532.3, 535, 4, false);
violinRow(2, icam1Ne, icam1E, 539.3, 610.3, 614, 4, false);
violinRow(3, icam2Ne, icam2E, 617.7, 689.3, 692.7, 3, true);
</script>
</body>
</html>
